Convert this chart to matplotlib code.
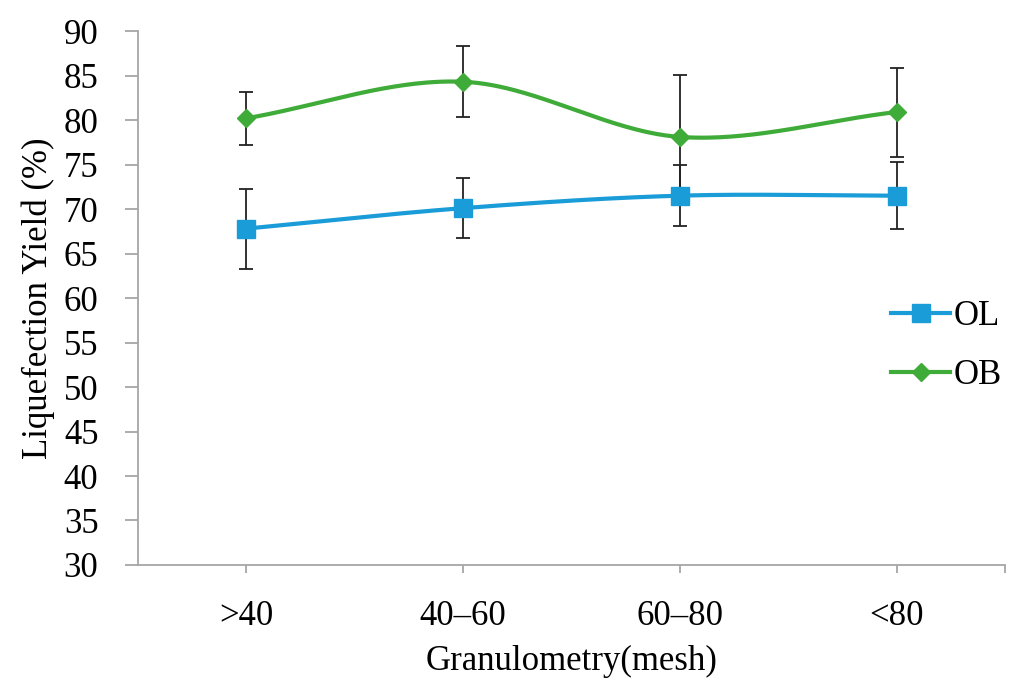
import numpy as np
import matplotlib
matplotlib.use("Agg")
import matplotlib.pyplot as plt
from matplotlib.lines import Line2D

categories = [">40", "40\u201360", "60\u201380", "<80"]
ol_values = [67.8, 70.1, 71.5, 71.5]
ol_errors = [4.5, 3.4, 3.4, 3.8]
ob_values = [80.2, 84.3, 78.1, 80.9]
ob_errors = [3.0, 4.0, 7.0, 5.0]

BLUE = "#1a9cd8"
GREEN = "#3fab38"
GRAY = "#a6a6a6"


def smooth(x, y, n=60):
    # catmull-rom style smoothing like excel's smoothed line
    x = np.asarray(x, float)
    y = np.asarray(y, float)
    px = np.concatenate([[2 * x[0] - x[1]], x, [2 * x[-1] - x[-2]]])
    py = np.concatenate([[2 * y[0] - y[1]], y, [2 * y[-1] - y[-2]]])
    xs, ys = [], []
    for i in range(1, len(px) - 2):
        t = np.linspace(0, 1, n)
        for arr, out in ((px, xs), (py, ys)):
            p0, p1, p2, p3 = arr[i - 1], arr[i], arr[i + 1], arr[i + 2]
            out.append(0.5 * ((2 * p1) + (-p0 + p2) * t
                              + (2 * p0 - 5 * p1 + 4 * p2 - p3) * t ** 2
                              + (-p0 + 3 * p1 - 3 * p2 + p3) * t ** 3))
    return np.concatenate(xs), np.concatenate(ys)


plt.rcParams['font.family'] = ['Liberation Serif', 'DejaVu Serif']

fig = plt.figure(figsize=(10.09, 6.79), dpi=100)
ax = fig.add_axes([0.1368, 0.1679, 0.8592, 0.7864])

x = np.arange(len(categories)) + 0.5

for vals, errs, color, marker, ms in ((ol_values, ol_errors, BLUE, "s", 12.5),
                                      (ob_values, ob_errors, GREEN, "D", 9)):
    ax.errorbar(x, vals, yerr=errs, fmt="none", ecolor="#222222",
                elinewidth=1.3, capsize=5, capthick=1.3, zorder=2)
    sx, sy = smooth(x, vals)
    ax.plot(sx, sy, color=color, lw=3, zorder=3)
    ax.plot(x, vals, ls="none", marker=marker, ms=ms, color=color, zorder=4)

ax.set_xlim(0, 4)
ax.set_ylim(30, 90)
ax.set_yticks(range(30, 91, 5))
ax.set_xticks(x)
ax.set_xticklabels(categories)
ax.set_xticks([4], minor=True)

for side in ("top", "right"):
    ax.spines[side].set_visible(False)
for side in ("left", "bottom"):
    ax.spines[side].set_color(GRAY)
    ax.spines[side].set_linewidth(1.3)

ax.tick_params(axis="y", which="major", length=9.5, width=1.3, color=GRAY,
               labelsize=25, pad=19)
ax.tick_params(axis="x", which="both", length=6, width=1.3, color=GRAY,
               labelsize=25, pad=19)

ax.set_ylabel("Liquefection Yield (%)", fontsize=25, labelpad=6)
ax.set_xlabel("Granulometry(mesh)", fontsize=25, labelpad=9)

handles = [
    Line2D([], [], color=BLUE, lw=3, marker="s", ms=12.5),
    Line2D([], [], color=GREEN, lw=3, marker="D", ms=9),
]
ax.legend(handles, ["OL", "OB"], loc="center left", bbox_to_anchor=(0.853, 0.41),
          frameon=False, fontsize=25, handlelength=1.7, handletextpad=0.1,
          labelspacing=0.75, borderaxespad=0)

fig.savefig("out.png", dpi=100)
